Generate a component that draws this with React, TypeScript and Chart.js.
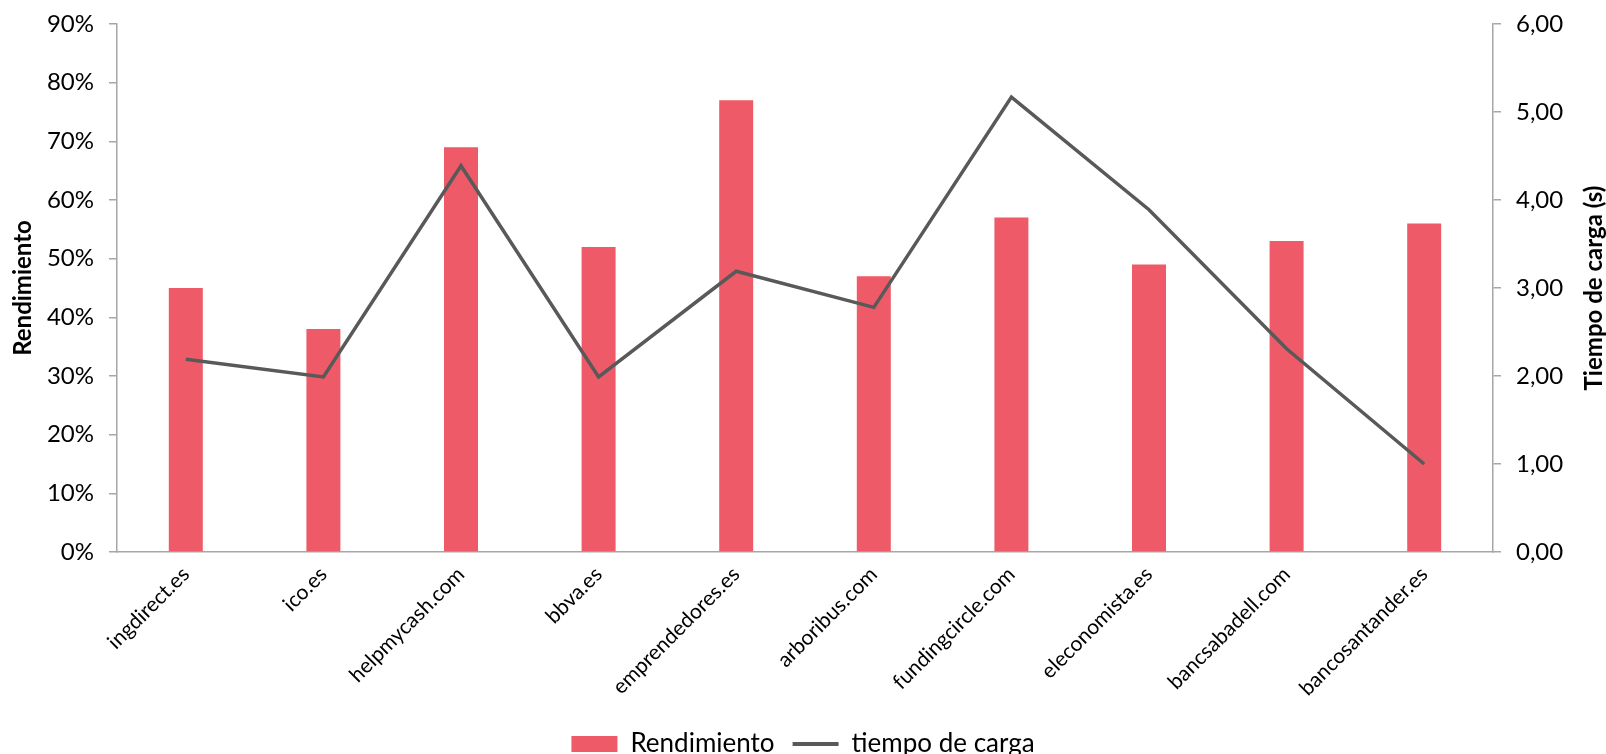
import React, { useEffect, useRef } from "react";
import { Chart, registerables } from "chart.js";

Chart.register(...registerables);

const categories = [
  "ingdirect.es",
  "ico.es",
  "helpmycash.com",
  "bbva.es",
  "emprendedores.es",
  "arboribus.com",
  "fundingcircle.com",
  "eleconomista.es",
  "bancsabadell.com",
  "bancosantander.es",
];
const rendimiento = [45, 38, 69, 52, 77, 47, 57, 49, 53, 56];
const tiempoCarga = [2.19, 1.99, 4.39, 1.99, 3.19, 2.78, 5.17, 3.89, 2.31, 1.0];
const leftTitle = "Rendimiento";
const rightTitle = "Tiempo de carga (s)";

const BAR_COLOR = "#EE5A67";
const LINE_COLOR = "#595959";
const AXIS_COLOR = "#A6A6A6";
const FONT = "Lato, 'Open Sans', sans-serif";

const axisTitles = {
  id: "axisTitles",
  afterDraw(chart: any) {
    const { ctx, chartArea } = chart;
    const cy = (chartArea.top + chartArea.bottom) / 2;
    ctx.save();
    ctx.fillStyle = "#000";
    ctx.font = `bold 24px ${FONT}`;
    ctx.textAlign = "center";
    ctx.textBaseline = "middle";
    ctx.translate(23, cy);
    ctx.rotate(-Math.PI / 2);
    ctx.fillText(leftTitle, 0, 0);
    ctx.restore();
    ctx.save();
    ctx.fillStyle = "#000";
    ctx.font = `bold 24px ${FONT}`;
    ctx.textAlign = "center";
    ctx.textBaseline = "middle";
    ctx.translate(chart.width - 12, cy);
    ctx.rotate(-Math.PI / 2);
    ctx.fillText(rightTitle, 0, 0);
    ctx.restore();
  },
};

export default function App() {
  const ref = useRef<HTMLCanvasElement | null>(null);
  useEffect(() => {
    document.body.style.margin = "0";
    const ctx = ref.current!;
    const chart = new Chart(ctx, {
      type: "bar",
      data: {
        labels: categories,
        datasets: [
          {
            type: "line",
            label: "tiempo de carga",
            data: tiempoCarga,
            yAxisID: "y1",
            borderColor: LINE_COLOR,
            backgroundColor: LINE_COLOR,
            borderWidth: 3.5,
            pointRadius: 0,
            tension: 0,
            order: 0,
          },
          {
            type: "bar",
            label: "Rendimiento",
            data: rendimiento,
            yAxisID: "y",
            backgroundColor: BAR_COLOR,
            categoryPercentage: 1,
            barPercentage: 0.247,
            order: 1,
          },
        ],
      },
      plugins: [axisTitles],
      options: {
        animation: false,
        responsive: true,
        maintainAspectRatio: false,
        layout: { padding: { top: 24, bottom: -13, left: 0, right: 0 } },
        plugins: {
          tooltip: { enabled: false },
          legend: {
            position: "bottom",
            labels: {
              usePointStyle: true,
              pointStyleWidth: 46,
              boxHeight: 16,
              padding: 18,
              color: "#000",
              font: { family: FONT, size: 26 },
              generateLabels: () => [
                {
                  text: "Rendimiento",
                  fillStyle: BAR_COLOR,
                  strokeStyle: BAR_COLOR,
                  lineWidth: 0,
                  pointStyle: "rect",
                  datasetIndex: 1,
                  hidden: false,
                },
                {
                  text: "tiempo de carga",
                  fillStyle: LINE_COLOR,
                  strokeStyle: LINE_COLOR,
                  lineWidth: 4,
                  pointStyle: "line",
                  datasetIndex: 0,
                  hidden: false,
                },
              ],
            },
          },
        },
        scales: {
          x: {
            offset: true,
            grid: { display: true, drawOnChartArea: false, drawTicks: false },
            border: { display: true, color: AXIS_COLOR, width: 1.5 },
            ticks: {
              minRotation: 45,
              maxRotation: 45,
              padding: 10,
              color: "#000",
              font: { family: FONT, size: 21 },
            },
            afterFit: (s: any) => {
              s.height = 161;
              s.paddingLeft = 0;
              s.paddingRight = 0;
            },
          },
          y: {
            position: "left",
            min: 0,
            max: 90,
            grid: { drawOnChartArea: false, drawTicks: true, tickLength: 8, color: AXIS_COLOR, lineWidth: 1.5 },
            border: { display: true, color: AXIS_COLOR, width: 1.5 },
            ticks: {
              stepSize: 10,
              padding: 15,
              color: "#000",
              font: { family: FONT, size: 24 },
              callback: (v: any) => v + "%",
            },
            afterFit: (s: any) => {
              s.width = 117;
              s.paddingTop = 0;
              s.paddingBottom = 0;
            },
          },
          y1: {
            position: "right",
            min: 0,
            max: 6,
            grid: { drawOnChartArea: false, drawTicks: true, tickLength: 8, color: AXIS_COLOR, lineWidth: 1.5 },
            border: { display: true, color: AXIS_COLOR, width: 1.5 },
            ticks: {
              stepSize: 1,
              padding: 15,
              color: "#000",
              font: { family: FONT, size: 24 },
              callback: (v: any) => Number(v).toFixed(2).replace(".", ","),
            },
            afterFit: (s: any) => {
              s.width = 113;
              s.paddingTop = 0;
              s.paddingBottom = 0;
            },
          },
        },
      },
    });
    return () => chart.destroy();
  }, []);
  return (
    <div style={{ position: "absolute", left: 0, top: 0, width: 1606, height: 754, background: "#fff" }}>
      <canvas ref={ref} />
    </div>
  );
}
